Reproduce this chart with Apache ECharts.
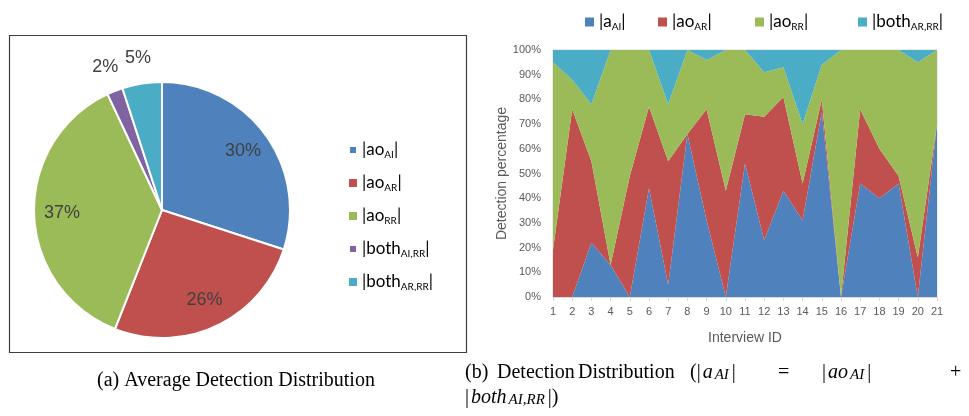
<!DOCTYPE html>
<html>
<head>
<meta charset="utf-8">
<script src="https://cdn.jsdelivr.net/npm/echarts@6/dist/echarts.min.js"></script>
<style>
  html, body { margin: 0; padding: 0; background: #fff; }
  #chart { width: 969px; height: 416px; }
</style>
</head>
<body>
<div id="chart"></div>
<script>
// (a) average detection distribution
const pieNames = ["ao_AI", "ao_AR", "ao_RR", "both_AI,RR", "both_AR,RR"];
const pieValues = [30, 26, 37, 2, 5];
const pieColors = ["#4F81BD", "#C0504D", "#9BBB59", "#8064A2", "#4BACC6"];

// (b) detection distribution per interview (percent, stacked)
const interviews = ["1","2","3","4","5","6","7","8","9","10","11","12","13","14","15","16","17","18","19","20","21"];
const aAI    = [0, 0, 22, 13, 0, 44, 5, 66, 31, 0, 54, 23, 43, 31, 75, 0, 46, 40, 46, 0, 70];
const aoAR   = [19, 76, 33, 0, 49, 33, 50, 0, 45, 43, 20, 50, 38, 15, 5, 0, 30, 20, 3, 16, 0];
const aoRR   = [76, 12, 23, 87, 51, 23, 23, 34, 20, 57, 26, 18, 12, 24, 14, 100, 24, 40, 51, 79, 30];
const bothAR = [5, 12, 22, 0, 0, 0, 22, 0, 4, 0, 0, 9, 7, 30, 6, 0, 0, 0, 0, 5, 0];
const areaNames = ["a_AI", "ao_AR", "ao_RR", "both_AR,RR"];
const areaColors = ["#4F81BD", "#C0504D", "#9BBB59", "#4BACC6"];
const yTicks = { min: 0, max: 100, interval: 10 };

const chart = echarts.init(document.getElementById("chart"));

const subName = (name) => {
  const parts = name.split("_");
  return "|" + parts[0] + "{s|" + parts[1] + "}|";
};
const legendText = {
  fontFamily: "Lato", fontSize: 17, color: "#000", lineHeight: 20,
  rich: { s: { fontFamily: "Lato", fontSize: 10, lineHeight: 11, verticalAlign: "bottom", color: "#000" } }
};
const pieLabel = { color: "#404040", fontFamily: "Liberation Sans", fontSize: 18 };
const clear = { color: "rgba(0,0,0,0)", borderWidth: 0 };

const areaLegendLeft = [580, 653, 750, 853];
const areaLegends = areaNames.map((n, i) => ({
  data: [n], left: areaLegendLeft[i], top: 7, icon: "rect",
  itemWidth: 9, itemHeight: 9, itemTextGap: 13,
  formatter: subName, textStyle: legendText, selectedMode: false
}));

const serif = "Liberation Serif";
const capRich = {
  i: { fontFamily: serif, fontStyle: "italic", fontSize: 20, fill: "#000", padding: [0, 2, 0, 2] },
  si: { fontFamily: serif, fontStyle: "italic", fontSize: 15, fill: "#000", verticalAlign: "bottom", lineHeight: 14, padding: [0, 3, 0, 0] }
};
const cap = (x, y, text) => ({
  type: "text", left: x, top: y,
  style: { text: text, font: "20px " + serif, fill: "#000", rich: capRich }
});

const option = {
  animation: false,
  backgroundColor: "#fff",
  graphic: [
    { type: "rect", shape: { x: 9.5, y: 35.5, width: 457, height: 317 }, style: { fill: "none", stroke: "#404040", lineWidth: 1.2 } },
    { type: "text", x: 236, y: 371, style: { text: "(a) Average Detection Distribution", font: "20px " + serif, fill: "#000", align: "center" } },
    cap(465, 363, "(b)"),
    cap(497, 363, "Detection"),
    cap(578, 363, "Distribution"),
    cap(690, 363, "(|{i|a}{si|AI}|"),
    cap(778, 363, "="),
    cap(822, 363, "|{i|ao}{si|AI}|"),
    cap(950, 363, "+"),
    cap(465, 388, "|{i|both}{si|AI,RR}|)")
  ],
  legend: [
    {
      data: pieNames, orient: "vertical", left: 343, top: 135, icon: "rect",
      itemWidth: 8, itemHeight: 8, itemGap: 13, itemTextGap: 14,
      formatter: subName, textStyle: legendText, selectedMode: false
    }
  ].concat(areaLegends),
  grid: {
    left: 553, right: 32, top: 50, bottom: 119,
    show: true, borderColor: "#d9d9d9", borderWidth: 1,
    outerBoundsMode: "none"
  },
  xAxis: {
    type: "category", data: interviews, boundaryGap: false,
    name: "Interview ID", nameLocation: "middle", nameGap: 34,
    nameTextStyle: { fontFamily: "Liberation Sans", fontSize: 14, color: "#595959" },
    axisLine: { lineStyle: { color: "#d9d9d9" } },
    axisTick: { show: true, length: 4, lineStyle: { color: "#d9d9d9" } },
    axisLabel: { fontFamily: "Liberation Sans", fontSize: 11, color: "#595959", margin: 9 }
  },
  yAxis: {
    type: "value", min: yTicks.min, max: yTicks.max, interval: yTicks.interval,
    name: "Detection percentage", nameLocation: "middle", nameGap: 44,
    nameTextStyle: { fontFamily: "Liberation Sans", fontSize: 14, color: "#595959" },
    axisLine: { show: false }, axisTick: { show: false }, splitLine: { show: false },
    axisLabel: { formatter: "{value}%", fontFamily: "Liberation Sans", fontSize: 11, color: "#595959", margin: 12 }
  },
  series: [
    {
      type: "pie", name: "avg", center: [162, 210], radius: 128, startAngle: 90,
      avoidLabelOverlap: false, silent: true,
      itemStyle: { borderColor: "#fff", borderWidth: 2 },
      label: { show: false }, labelLine: { show: false },
      data: pieNames.map((n, i) => ({ name: n, value: pieValues[i], itemStyle: { color: pieColors[i] } }))
    },
    {
      type: "pie", name: "avgInner", center: [162, 210], radius: [66, 128], startAngle: 90,
      avoidLabelOverlap: false, silent: true, legendHoverLink: false,
      itemStyle: clear, labelLine: { show: false },
      label: Object.assign({ position: "inside", formatter: "{c}%" }, pieLabel),
      data: pieNames.map((n, i) => ({ name: n, value: pieValues[i], label: { show: pieValues[i] >= 10 } }))
    },
    {
      type: "pie", name: "avgOuter", center: [162, 210], radius: [132, 170], startAngle: 90,
      avoidLabelOverlap: false, silent: true, legendHoverLink: false,
      itemStyle: clear, labelLine: { show: false },
      label: Object.assign({ position: "inside", formatter: "{c}%" }, pieLabel),
      data: pieNames.map((n, i) => ({ name: n, value: pieValues[i], label: { show: pieValues[i] < 10 } }))
    }
  ].concat([aAI, aoAR, aoRR, bothAR].map((vals, i) => ({
    type: "line", name: areaNames[i], stack: "total", data: vals,
    symbol: "none", silent: true,
    color: areaColors[i],
    lineStyle: { width: 0 },
    areaStyle: { color: areaColors[i], opacity: 1 }
  })))
};

chart.setOption(option);
</script>
</body>
</html>
